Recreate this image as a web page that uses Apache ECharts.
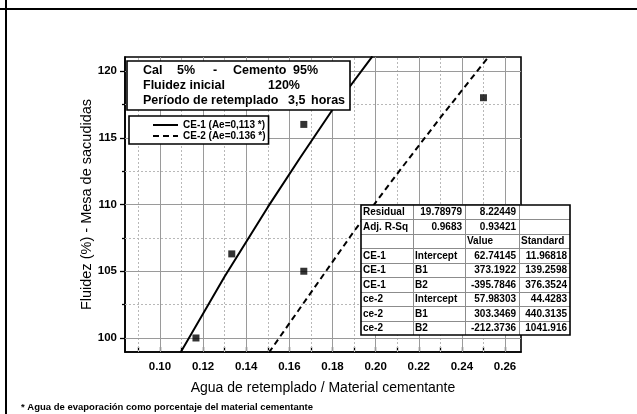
<!DOCTYPE html>
<html>
<head>
<meta charset="utf-8">
<script src="https://cdn.jsdelivr.net/npm/echarts@6/dist/echarts.min.js"></script>
<style>
  html, body { margin: 0; padding: 0; background: #fff; }
  #chart { width: 637px; height: 414px; }
</style>
</head>
<body>
<div id="chart"></div>
<script>
// Axis ranges and ticks
const xRange = [0.0838, 0.2674];
const yRange = [98.95, 121.05];
const xMajorTicks = [0.10, 0.12, 0.14, 0.16, 0.18, 0.20, 0.22, 0.24, 0.26];
const xMinorTicks = [0.09, 0.11, 0.13, 0.15, 0.17, 0.19, 0.21, 0.23, 0.25];
const yMajorTicks = [100, 105, 110, 115, 120];
const yMinorTicks = [102.5, 107.5, 112.5, 117.5];

// Measured points: water/cement ratio vs. flow
const measuredX = [0.1167, 0.1333, 0.1667, 0.1667, 0.25];
const measuredY = [100.0, 106.3, 116.0, 105.0, 118.0];

// Fitted curves
const ce1Name = 'CE-1 (Ae=0,113 *)';
const ce1X = [0.1095, 0.13, 0.15, 0.165, 0.18, 0.1985];
const ce1Y = [98.9, 104.6, 109.8, 113.5, 117.1, 121.1];
const ce2Name = 'CE-2 (Ae=0.136 *)';
const ce2X = [0.1505, 0.17, 0.19, 0.21, 0.23, 0.2525];
const ce2Y = [98.9, 103.4, 108.0, 112.3, 116.5, 121.1];

// Fit statistics table
const tableRows = [
  ['Residual', '19.78979', '8.22449', ''],
  ['Adj. R-Sq', '0.9683', '0.93421', ''],
  ['', '', 'Value', 'Standard'],
  ['CE-1', 'Intercept', '62.74145', '11.96818'],
  ['CE-1', 'B1', '373.1922', '139.2598'],
  ['CE-1', 'B2', '-395.7846', '376.3524'],
  ['ce-2', 'Intercept', '57.98303', '44.4283'],
  ['ce-2', 'B1', '303.3469', '440.3135'],
  ['ce-2', 'B2', '-212.3736', '1041.916']
];

// Text box contents
const infoLines = [
  [['Cal', 143], ['5%', 177], ['-', 213], ['Cemento', 233], ['95%', 293]],
  [['Fluidez inicial', 143], ['120%', 268]],
  [['Período de retemplado', 143], ['3,5', 288], ['horas', 311]]
];
const footnote = '* Agua de evaporación como porcentaje del material cementante';
const xTitle = 'Agua de retemplado / Material cementante';
const yTitle = 'Fluidez (%) - Mesa de sacudidas';

const FONT = '"Liberation Sans", Arial, sans-serif';
const zip = (xs, ys) => xs.map((x, i) => [x, ys[i]]);

const chart = echarts.init(document.getElementById('chart'), null, { renderer: 'canvas' });

// Grid lines drawn as mark lines so major/minor can be styled separately
const majorStyle = { color: '#9a9a9a', width: 1, type: 'solid' };
const minorStyle = { color: '#b8b8b8', width: 1, type: [2, 2] };
const gridLines = []
  .concat(xMajorTicks.map(v => ({ xAxis: v, lineStyle: majorStyle })))
  .concat(xMinorTicks.map(v => ({ xAxis: v, lineStyle: minorStyle })))
  .concat(yMajorTicks.map(v => ({ yAxis: v, lineStyle: majorStyle })))
  .concat(yMinorTicks.map(v => ({ yAxis: v, lineStyle: minorStyle })));

const TOP_Z = 60;

// Table graphics
const tbl = { x: 361, y: 205, colW: [52, 52, 54, 51], rowH: 130 / 9 };
const tableWidth = tbl.colW.reduce((a, b) => a + b, 0);
const tableHeight = tbl.rowH * tableRows.length;
const tableEls = [];
tableEls.push({
  type: 'rect', z: TOP_Z, shape: { x: tbl.x, y: tbl.y, width: tableWidth, height: tableHeight },
  style: { fill: '#fff', stroke: null }
});
for (let r = 1; r < tableRows.length; r++) {
  const yy = Math.round(tbl.y + r * tbl.rowH) + 0.5;
  tableEls.push({ type: 'line', z: TOP_Z + 1, shape: { x1: tbl.x, y1: yy, x2: tbl.x + tableWidth, y2: yy },
    style: { stroke: '#8c8c8c', lineWidth: 1 } });
}
let cx = tbl.x;
const colX = [];
for (let c = 0; c < tbl.colW.length; c++) {
  colX.push(cx);
  if (c > 0) {
    tableEls.push({ type: 'line', z: TOP_Z + 1, shape: { x1: cx + 0.5, y1: tbl.y, x2: cx + 0.5, y2: tbl.y + tableHeight },
      style: { stroke: '#8c8c8c', lineWidth: 1 } });
  }
  cx += tbl.colW[c];
}
tableEls.push({
  type: 'rect', z: TOP_Z + 2, shape: { x: tbl.x, y: tbl.y, width: tableWidth, height: tableHeight },
  style: { fill: null, stroke: '#000', lineWidth: 1.6 }
});
const isNumber = s => /^-?[0-9.]+$/.test(s);
tableRows.forEach((row, r) => {
  row.forEach((cell, c) => {
    if (!cell) return;
    const num = isNumber(cell);
    tableEls.push({
      type: 'text', z: TOP_Z + 3,
      x: num ? colX[c] + tbl.colW[c] - 3 : colX[c] + 2,
      y: tbl.y + (r + 0.5) * tbl.rowH + 0.5,
      style: { text: cell, fill: '#000', font: 'bold 10px ' + FONT,
        align: num ? 'right' : 'left', verticalAlign: 'middle' }
    });
  });
});

// Info box graphics
const infoEls = [{
  type: 'rect', z: TOP_Z, shape: { x: 127, y: 61, width: 223, height: 49 },
  style: { fill: '#fff', stroke: '#000', lineWidth: 1.6 }
}];
infoLines.forEach((line, i) => {
  line.forEach(([txt, x]) => {
    infoEls.push({
      type: 'text', z: TOP_Z + 1, x: x, y: 71 + i * 14.8,
      style: { text: txt, fill: '#000', font: 'bold 12.5px ' + FONT, align: 'left', verticalAlign: 'middle' }
    });
  });
});

const option = {
  animation: false,
  backgroundColor: '#fff',
  grid: {
    left: 125, top: 57, width: 396, height: 295,
    show: true, borderColor: '#000', borderWidth: 1.6, backgroundColor: 'transparent',
    containLabel: false, outerBoundsMode: 'none'
  },
  legend: {
    data: [ce1Name, ce2Name],
    orient: 'vertical', left: 129, top: 116,
    padding: [4, 3, 3, 23], itemGap: 1, itemWidth: 25, itemHeight: 10,
    borderColor: '#000', borderWidth: 1.6, backgroundColor: '#fff',
    selectedMode: false,
    itemStyle: { opacity: 0 },
    textStyle: { fontFamily: FONT, fontWeight: 'bold', fontSize: 10, color: '#000' },
    z: 20
  },
  xAxis: [{
    type: 'value', min: xRange[0], max: xRange[1],
    name: xTitle, nameLocation: 'middle', nameGap: 29,
    nameTextStyle: { fontFamily: FONT, fontSize: 14, color: '#000' },
    axisLine: { show: true, onZero: false, lineStyle: { color: '#000', width: 1.6 } },
    axisTick: { show: true, inside: true, length: 5, customValues: xMajorTicks.concat(xMinorTicks),
      lineStyle: { color: '#000', width: 1.3 } },
    axisLabel: { show: true, customValues: xMajorTicks, margin: 9,
      formatter: v => v.toFixed(2),
      fontFamily: FONT, fontWeight: 'bold', fontSize: 11.5, color: '#000' },
    splitLine: { show: false }
  }],
  yAxis: [{
    type: 'value', min: yRange[0], max: yRange[1], position: 'left',
    name: yTitle, nameLocation: 'middle', nameGap: 31, nameRotate: 90, nameMoveOverlap: false,
    nameTextStyle: { fontFamily: FONT, fontSize: 14.5, color: '#000' },
    axisLine: { show: true, onZero: false, lineStyle: { color: '#000', width: 1.6 } },
    axisTick: { show: true, inside: false, length: 5, customValues: yMajorTicks,
      lineStyle: { color: '#000', width: 1.3 } },
    axisLabel: { show: true, customValues: yMajorTicks, margin: 8,
      fontFamily: FONT, fontWeight: 'bold', fontSize: 11.5, color: '#000' },
    splitLine: { show: false }
  }, {
    type: 'value', min: yRange[0], max: yRange[1], position: 'left', offset: 0,
    axisLine: { show: false },
    axisTick: { show: true, inside: false, length: 3, customValues: yMinorTicks,
      lineStyle: { color: '#000', width: 1.3 } },
    axisLabel: { show: false },
    splitLine: { show: false }
  }],
  series: [
    {
      type: 'line', data: [], z: 1, silent: true,
      markLine: { z: 1, silent: true, symbol: ['none', 'none'], label: { show: false },
        animation: false, emphasis: { disabled: true }, data: gridLines }
    },
    {
      name: ce1Name, type: 'line', data: zip(ce1X, ce1Y), symbol: 'none', z: 3,
      lineStyle: { color: '#000', width: 2, type: 'solid' }, itemStyle: { color: '#000' },
      clip: true, smooth: false
    },
    {
      name: ce2Name, type: 'line', data: zip(ce2X, ce2Y), symbol: 'none', z: 3,
      lineStyle: { color: '#000', width: 2, type: [6, 4] }, itemStyle: { color: '#000' },
      clip: true, smooth: false
    },
    {
      type: 'scatter', data: zip(measuredX, measuredY), symbol: 'rect', symbolSize: 7, z: 4,
      itemStyle: { color: '#000' }
    }
  ],
  graphic: [
    { type: 'line', shape: { x1: 0, y1: 9, x2: 637, y2: 9 }, style: { stroke: '#000', lineWidth: 2 }, z: 50 },
    { type: 'line', shape: { x1: 6, y1: 0, x2: 6, y2: 414 }, style: { stroke: '#000', lineWidth: 2 }, z: 50 },
    { type: 'group', children: infoEls },
    { type: 'group', children: tableEls },
    { type: 'text', x: 21, y: 407, z: TOP_Z,
      style: { text: footnote, fill: '#000', font: 'bold 9.5px ' + FONT, align: 'left', verticalAlign: 'middle' } }
  ]
};

chart.setOption(option);
</script>
</body>
</html>
